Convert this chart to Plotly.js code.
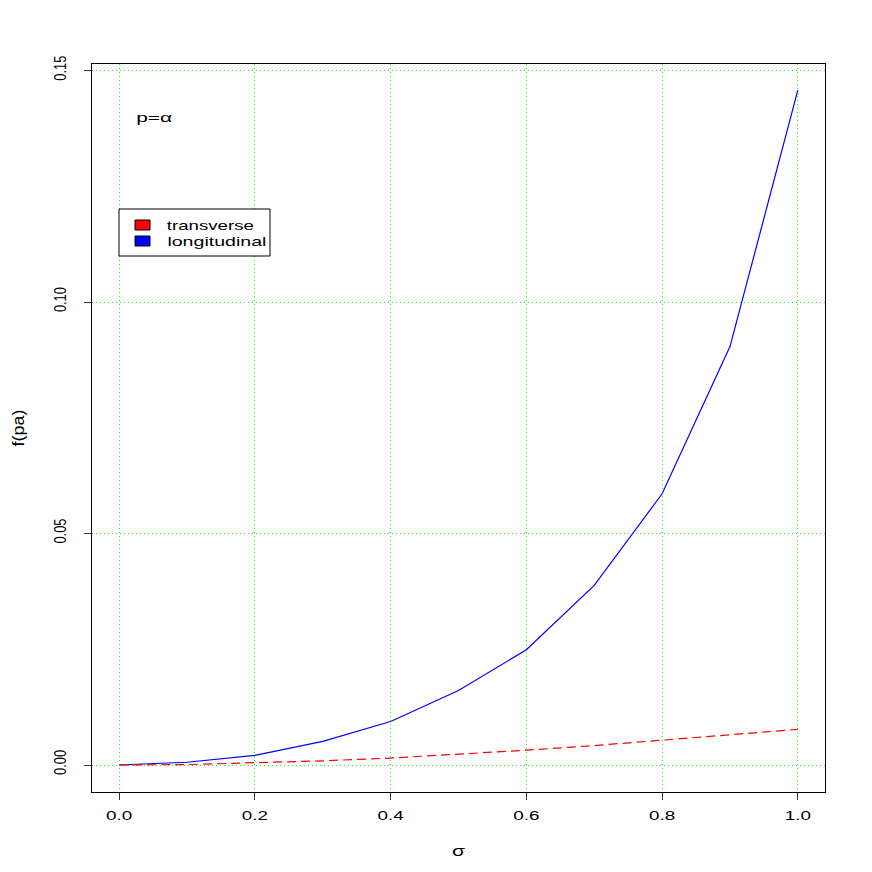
<!DOCTYPE html>
<html>
<head>
<meta charset="utf-8">
<script src="https://cdn.plot.ly/plotly-3.0.1.min.js"></script>
<style>html,body{margin:0;padding:0;background:#fff}#plot{width:872px;height:872px}</style>
</head>
<body>
<div id="plot"></div>
<script>
const sigma = [0.0, 0.1, 0.2, 0.3, 0.4, 0.5, 0.6, 0.7, 0.8, 0.9, 1.0];
const transverse = [0, 0.0001, 0.0005, 0.0009, 0.0015, 0.0023, 0.0032, 0.0042, 0.0054, 0.0065, 0.0077];
const longitudinal = [0, 0.0006, 0.0021, 0.0051, 0.0094, 0.0161, 0.0249, 0.0388, 0.0586, 0.0904, 0.1458];
const xTicks = [0, 0.2, 0.4, 0.6, 0.8, 1.0];
const xTickLabels = ["0.0", "0.2", "0.4", "0.6", "0.8", "1.0"];
const yTicks = [0, 0.05, 0.10, 0.15];
const yTickLabels = ["0.00", "0.05", "0.10", "0.15"];
const legendNames = ["transverse", "longitudinal"];
const legendColors = ["#ff0000", "#0000ff"];

const font = "Liberation Sans, Arial, Helvetica, sans-serif";

const traces = [
  {x: sigma, y: longitudinal, type: 'scatter', mode: 'lines', line: {color: '#0000ff', width: 1.2}, showlegend: false, hoverinfo: 'none'},
  {x: sigma, y: transverse, type: 'scatter', mode: 'lines', line: {color: '#ff0000', width: 1.2, dash: '9px,5px'}, showlegend: false, hoverinfo: 'none'}
];

const px2x = p => (p - 92) / 733;
const py2y = p => (792 - p) / 728;

const shapes = [
  {type: 'rect', xref: 'paper', yref: 'paper', x0: px2x(119), x1: px2x(270), y0: py2y(256), y1: py2y(209), line: {color: '#000', width: 1}, fillcolor: '#fff', layer: 'above'}
];
const annotations = [
  {x: 0.0526, y: 0.1400, xref: 'x', yref: 'y', text: 'p=α', showarrow: false, xanchor: 'center', yanchor: 'middle', font: {family: font, size: 13, color: '#000'}}
];
const legendCenters = [210.5, 216.5];
legendNames.forEach((n, i) => {
  const cyp = 225 + i * 16;
  shapes.push({type: 'rect', xref: 'paper', yref: 'paper', x0: px2x(135), x1: px2x(150), y0: py2y(cyp + 5), y1: py2y(cyp - 5), line: {color: '#000', width: 1}, fillcolor: legendColors[i], layer: 'above'});
  annotations.push({x: px2x(legendCenters[i]), y: py2y(cyp), xref: 'paper', yref: 'paper', text: n, showarrow: false, xanchor: 'center', yanchor: 'middle', font: {family: font, size: 13, color: '#000'}});
});

const layout = {
  width: 872, height: 872,
  margin: {l: 92, r: 47, t: 64, b: 80, pad: 0},
  paper_bgcolor: '#fff', plot_bgcolor: '#fff',
  showlegend: false,
  font: {family: font, size: 12, color: '#000'},
  xaxis: {
    range: [-0.04, 1.04], tickvals: xTicks, ticktext: xTickLabels,
    showline: true, mirror: true, linecolor: '#000', linewidth: 1,
    ticks: 'outside', ticklen: 7, tickcolor: '#333', tickwidth: 1,
    showgrid: true, gridcolor: '#00ff00', griddash: '1px,3px', gridwidth: 1,
    zeroline: false, tickfont: {family: font, size: 13}, ticklabelstandoff: 4,
    title: {text: 'σ', font: {family: font, size: 14}, standoff: 24}
  },
  yaxis: {
    range: [-0.00583, 0.15145], tickvals: yTicks, ticktext: yTickLabels,
    showline: true, mirror: true, linecolor: '#000', linewidth: 1,
    ticks: 'outside', ticklen: 7, tickcolor: '#333', tickwidth: 1,
    showgrid: true, gridcolor: '#00ff00', griddash: '1px,3px', gridwidth: 1,
    zeroline: false, tickangle: -90, tickfont: {family: font, size: 17}, ticklabelstandoff: 11,
    title: {text: 'f(pa)', font: {family: font, size: 17}, standoff: 22}
  },
  shapes: shapes,
  annotations: annotations
};

function stretch(sel, factorOrFn) {
  document.querySelectorAll(sel).forEach(t => {
    const n = t.getComputedTextLength();
    if (!n) return;
    const target = typeof factorOrFn === 'function' ? factorOrFn(t, n) : n * factorOrFn;
    t.setAttribute('textLength', target.toFixed(2));
    t.setAttribute('lengthAdjust', 'spacingAndGlyphs');
  });
}

Plotly.newPlot('plot', traces, layout, {staticPlot: true, displayModeBar: false}).then(gd => {
  stretch('.xtick text', 1.45);
  stretch('.ytick text', () => 25);
  stretch('.g-ytitle text', () => 37);
  stretch('.g-xtitle text', () => 13);
  stretch('.annotation-text', (t, n) => {
    const s = t.textContent;
    if (s === 'p=α') return 36;
    if (s === 'transverse') return 87;
    if (s === 'longitudinal') return 99;
    return n;
  });
});
</script>
</body>
</html>
